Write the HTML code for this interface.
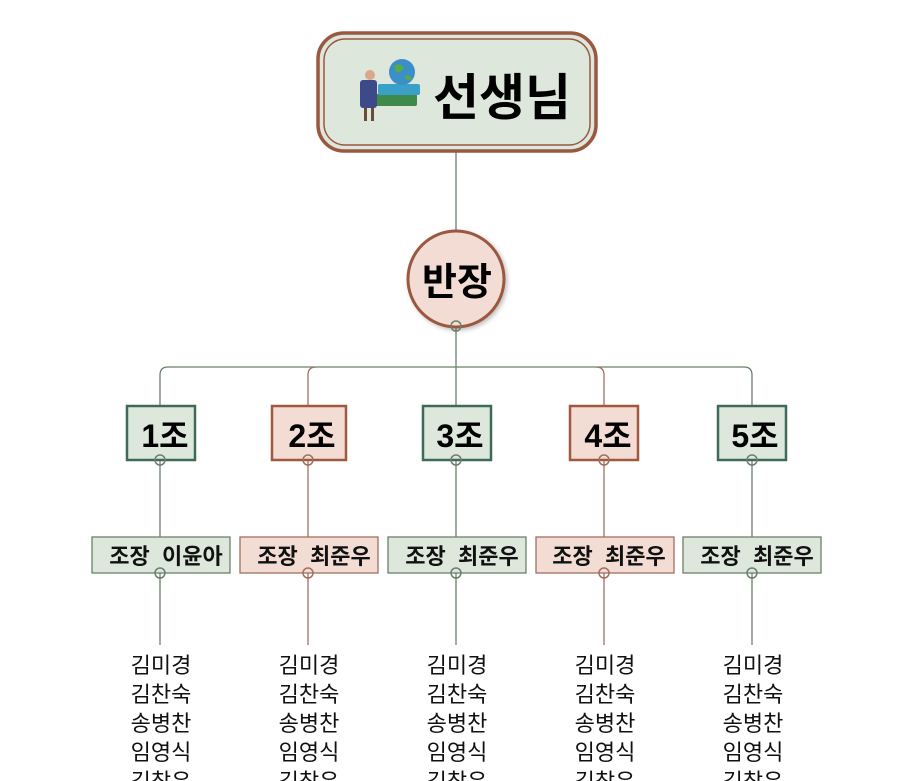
<!DOCTYPE html>
<html><head><meta charset="utf-8"><style>
html,body{margin:0;padding:0;background:#fff;}
svg{display:block;font-family:"Liberation Sans","Noto Sans CJK KR",sans-serif;}
</style></head><body>
<svg width="912" height="781" viewBox="0 0 912 781" xmlns="http://www.w3.org/2000/svg">
<defs>
<filter id="sh" x="-20%" y="-20%" width="140%" height="140%"><feDropShadow dx="2" dy="2" stdDeviation="2" flood-color="#000" flood-opacity="0.25"/></filter>
</defs>
<line x1="456" y1="152" x2="456" y2="232" stroke="#6b806b" stroke-width="1.3"/>
<line x1="456" y1="326" x2="456" y2="405" stroke="#6b806b" stroke-width="1.3"/>
<path d="M160,405 V375 Q160,367 168,367 H744 Q752,367 752,375 V405" fill="none" stroke="#6b806b" stroke-width="1.3"/>
<path d="M308,405 V375 Q308,367 316,367" fill="none" stroke="#a07060" stroke-width="1.3"/>
<path d="M604,405 V375 Q604,367 596,367" fill="none" stroke="#a07060" stroke-width="1.3"/>
<g stroke-width="1.3">
<line x1="160" y1="460" x2="160" y2="645" stroke="#6b806b"/>
<line x1="308" y1="460" x2="308" y2="645" stroke="#a07060"/>
<line x1="456" y1="460" x2="456" y2="645" stroke="#6b806b"/>
<line x1="604" y1="460" x2="604" y2="645" stroke="#a07060"/>
<line x1="752" y1="460" x2="752" y2="645" stroke="#6b806b"/>
</g>
<rect x="318" y="33" width="278" height="118" rx="26" fill="#dde7dc" stroke="#9a5840" stroke-width="3.5"/>
<rect x="324" y="39" width="266" height="106" rx="21" fill="none" stroke="#9a5840" stroke-width="1.5"/>
<g>
<rect x="373" y="94" width="44" height="12" fill="#3f8a4a" rx="2"/>
<rect x="378" y="84" width="42" height="11" fill="#3aa0c8" rx="2"/>
<circle cx="402" cy="72" r="13" fill="#3a8fc8"/>
<path d="M394,66 q6,-4 10,2 q-4,6 -8,4z M404,76 q6,-2 8,3 q-6,3 -8,-3z" fill="#5aa84a"/>
<rect x="360" y="80" width="17" height="28" fill="#3c4a8a" rx="3"/>
<circle cx="370" cy="75" r="5" fill="#d8a888"/>
<rect x="364" y="108" width="3" height="13" fill="#6a4a3a"/><rect x="371" y="108" width="3" height="13" fill="#6a4a3a"/>
</g>
<text x="502" y="115" font-size="50" font-weight="bold" text-anchor="middle" fill="#000">선생님</text>
<circle cx="456" cy="279" r="48" fill="#f2dcd4" stroke="#9a5840" stroke-width="3" filter="url(#sh)"/>
<text x="457" y="295" font-size="38" font-weight="bold" text-anchor="middle">반장</text>
<circle cx="456" cy="326" r="5" fill="none" stroke="#6b806b" stroke-width="1.5"/>
<g font-size="32" font-weight="bold" text-anchor="middle">
<rect x="127" y="406" width="68" height="54" fill="#dde7dc" stroke="#3d6b58" stroke-width="2.5"/><text x="165" y="447">1조</text>
<rect x="272" y="406" width="74" height="54" fill="#f2dcd4" stroke="#a0583f" stroke-width="2.5"/><text x="312" y="447">2조</text>
<rect x="423" y="406" width="68" height="54" fill="#dde7dc" stroke="#3d6b58" stroke-width="2.5"/><text x="460" y="447">3조</text>
<rect x="570" y="406" width="68" height="54" fill="#f2dcd4" stroke="#a0583f" stroke-width="2.5"/><text x="608" y="447">4조</text>
<rect x="718" y="406" width="68" height="54" fill="#dde7dc" stroke="#3d6b58" stroke-width="2.5"/><text x="755" y="447">5조</text>
</g>
<g font-size="22" font-weight="bold" text-anchor="middle" fill="#111">
<rect x="92" y="537" width="138" height="36" fill="#dde7dc" stroke="#6b806b" stroke-width="1.3"/><text x="166" y="564" xml:space="preserve">조장  이윤아</text>
<rect x="240" y="537" width="138" height="36" fill="#f2dcd4" stroke="#a07060" stroke-width="1.3"/><text x="314" y="564" xml:space="preserve">조장  최준우</text>
<rect x="388" y="537" width="138" height="36" fill="#dde7dc" stroke="#6b806b" stroke-width="1.3"/><text x="462" y="564" xml:space="preserve">조장  최준우</text>
<rect x="536" y="537" width="138" height="36" fill="#f2dcd4" stroke="#a07060" stroke-width="1.3"/><text x="609" y="564" xml:space="preserve">조장  최준우</text>
<rect x="683" y="537" width="138" height="36" fill="#dde7dc" stroke="#6b806b" stroke-width="1.3"/><text x="757" y="564" xml:space="preserve">조장  최준우</text>
</g>
<g fill="none" stroke-width="1.5">
<circle cx="160" cy="460" r="5" stroke="#6b806b"/><circle cx="308" cy="460" r="5" stroke="#a07060"/><circle cx="456" cy="460" r="5" stroke="#6b806b"/><circle cx="604" cy="460" r="5" stroke="#a07060"/><circle cx="752" cy="460" r="5" stroke="#6b806b"/>
<circle cx="160" cy="573" r="5" stroke="#6b806b"/><circle cx="308" cy="573" r="5" stroke="#a07060"/><circle cx="456" cy="573" r="5" stroke="#6b806b"/><circle cx="604" cy="573" r="5" stroke="#a07060"/><circle cx="752" cy="573" r="5" stroke="#6b806b"/>
</g>
<g font-size="22" text-anchor="middle" fill="#111">
<g id="n"><text x="161" y="673">김미경</text><text x="161" y="702">김찬숙</text><text x="161" y="731">송병찬</text><text x="161" y="760">임영식</text><text x="161" y="789">김창우</text></g>
<use href="#n" x="148"/><use href="#n" x="296"/><use href="#n" x="444"/><use href="#n" x="592"/>
</g>
</svg>
</body></html>
